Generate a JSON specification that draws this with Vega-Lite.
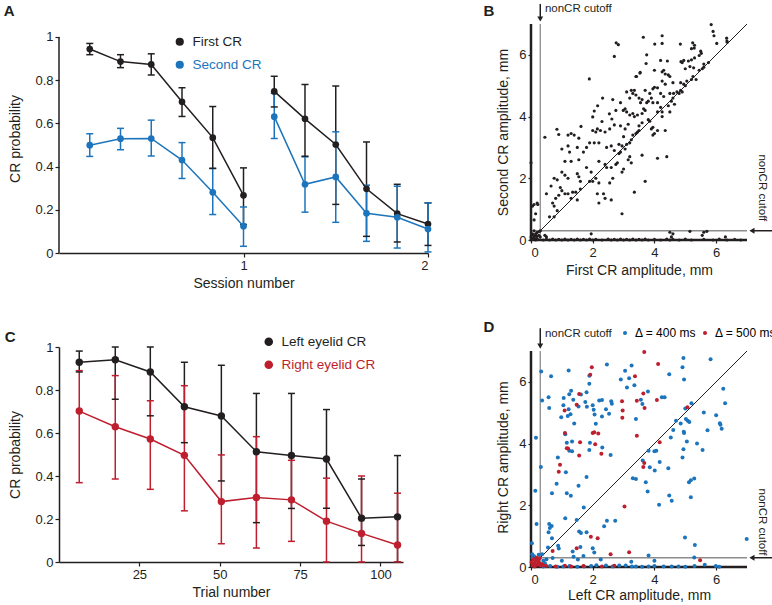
{
"$schema":"https://vega.github.io/schema/vega-lite/v6.json",
"padding":{"left":3,"top":2,"right":0,"bottom":0},
"config":{
 "font":"Liberation Sans",
 "view":{"stroke":null},
 "axis":{"grid":false,"labelFontSize":13,"titleFontSize":14,"titleFontWeight":"normal","labelColor":"#231f20","titleColor":"#231f20","tickColor":"#231f20","domainColor":"#231f20","domainWidth":1.5,"tickWidth":1.2,"tickSize":4},
 "legend":{"labelFontSize":13}
},
"resolve":{"scale":{"color":"independent"},"legend":{"color":"independent"}},
"datasets":{
 "a":[
  {"x":0.1667,"p":0.944,"lo":0.918,"hi":0.970,"series":"First CR","seg":1},
  {"x":0.3333,"p":0.886,"lo":0.858,"hi":0.918,"series":"First CR","seg":1},
  {"x":0.5,"p":0.873,"lo":0.824,"hi":0.922,"series":"First CR","seg":1},
  {"x":0.6667,"p":0.700,"lo":0.632,"hi":0.765,"series":"First CR","seg":1},
  {"x":0.8333,"p":0.534,"lo":0.392,"hi":0.678,"series":"First CR","seg":1},
  {"x":1.0,"p":0.267,"lo":0.132,"hi":0.394,"series":"First CR","seg":1},
  {"x":1.1667,"p":0.748,"lo":0.676,"hi":0.818,"series":"First CR","seg":2},
  {"x":1.3333,"p":0.621,"lo":0.448,"hi":0.780,"series":"First CR","seg":2},
  {"x":1.5,"p":0.502,"lo":0.225,"hi":0.773,"series":"First CR","seg":2},
  {"x":1.6667,"p":0.297,"lo":0.077,"hi":0.514,"series":"First CR","seg":2},
  {"x":1.8333,"p":0.182,"lo":0.051,"hi":0.318,"series":"First CR","seg":2},
  {"x":2.0,"p":0.134,"lo":0.035,"hi":0.232,"series":"First CR","seg":2},
  {"x":0.1667,"p":0.499,"lo":0.447,"hi":0.552,"series":"Second CR","seg":1},
  {"x":0.3333,"p":0.529,"lo":0.478,"hi":0.577,"series":"Second CR","seg":1},
  {"x":0.5,"p":0.530,"lo":0.449,"hi":0.615,"series":"Second CR","seg":1},
  {"x":0.6667,"p":0.430,"lo":0.345,"hi":0.511,"series":"Second CR","seg":1},
  {"x":0.8333,"p":0.281,"lo":0.178,"hi":0.391,"series":"Second CR","seg":1},
  {"x":1.0,"p":0.124,"lo":0.031,"hi":0.213,"series":"Second CR","seg":1},
  {"x":1.1667,"p":0.631,"lo":0.530,"hi":0.739,"series":"Second CR","seg":2},
  {"x":1.3333,"p":0.318,"lo":0.189,"hi":0.445,"series":"Second CR","seg":2},
  {"x":1.5,"p":0.352,"lo":0.142,"hi":0.561,"series":"Second CR","seg":2},
  {"x":1.6667,"p":0.184,"lo":0.054,"hi":0.314,"series":"Second CR","seg":2},
  {"x":1.8333,"p":0.165,"lo":0.023,"hi":0.309,"series":"Second CR","seg":2},
  {"x":2.0,"p":0.111,"lo":0.005,"hi":0.232,"series":"Second CR","seg":2}
 ],
 "c":[
  {"t":6.3,"p":0.929,"lo":0.884,"hi":0.981,"series":"Left eyelid CR"},
  {"t":17.5,"p":0.941,"lo":0.757,"hi":1.0,"series":"Left eyelid CR"},
  {"t":28.4,"p":0.884,"lo":0.68,"hi":1.0,"series":"Left eyelid CR"},
  {"t":39,"p":0.722,"lo":0.555,"hi":0.929,"series":"Left eyelid CR"},
  {"t":50.5,"p":0.679,"lo":0.377,"hi":0.915,"series":"Left eyelid CR"},
  {"t":61.4,"p":0.513,"lo":0.183,"hi":0.784,"series":"Left eyelid CR"},
  {"t":72.3,"p":0.495,"lo":0.249,"hi":0.784,"series":"Left eyelid CR"},
  {"t":83.2,"p":0.479,"lo":0.25,"hi":0.709,"series":"Left eyelid CR"},
  {"t":94.1,"p":0.204,"lo":0.077,"hi":0.386,"series":"Left eyelid CR"},
  {"t":105.3,"p":0.210,"lo":0.0,"hi":0.495,"series":"Left eyelid CR"},
  {"t":6.3,"p":0.702,"lo":0.369,"hi":0.89,"series":"Right eyelid CR"},
  {"t":17.5,"p":0.629,"lo":0.386,"hi":0.867,"series":"Right eyelid CR"},
  {"t":28.4,"p":0.572,"lo":0.338,"hi":0.75,"series":"Right eyelid CR"},
  {"t":39,"p":0.496,"lo":0.238,"hi":0.82,"series":"Right eyelid CR"},
  {"t":50.5,"p":0.281,"lo":0.085,"hi":0.498,"series":"Right eyelid CR"},
  {"t":61.4,"p":0.30,"lo":0.065,"hi":0.583,"series":"Right eyelid CR"},
  {"t":72.3,"p":0.289,"lo":0.096,"hi":0.473,"series":"Right eyelid CR"},
  {"t":83.2,"p":0.19,"lo":0.0,"hi":0.39,"series":"Right eyelid CR"},
  {"t":94.1,"p":0.133,"lo":0.0,"hi":0.40,"series":"Right eyelid CR"},
  {"t":105.3,"p":0.079,"lo":0.0,"hi":0.32,"series":"Right eyelid CR"}
 ],
 "gl":[{"x":0.3,"y":0,"x2":0.3,"y2":7},{"x":0,"y":0.3,"x2":7,"y2":0.3}],
 "bl":[{"x":0,"y":0,"x2":0,"y2":7},{"x":0,"y":0,"x2":7,"y2":0}],
 "dg":[{"x":0,"y":0,"x2":7,"y2":7}],
 "b":[
  {"x":5.84,"y":6.98},{"x":5.9,"y":6.76},{"x":5.93,"y":6.62},{"x":6.34,"y":6.54},{"x":6.36,"y":6.41},{"x":6.02,"y":6.37},{"x":3.64,"y":6.57},{"x":4.25,"y":6.62},{"x":4.25,"y":6.37},{"x":4.01,"y":6.35},{"x":2.76,"y":6.39},{"x":2.83,"y":6.33},{"x":4.84,"y":6.35},{"x":5.24,"y":6.39},{"x":5.3,"y":6.31},{"x":5.29,"y":6.22},{"x":5.2,"y":6.2},{"x":5.5,"y":6.12},{"x":5.52,"y":6.05},{"x":2.7,"y":5.95},{"x":3.75,"y":6.0},{"x":3.73,"y":5.72},{"x":3.54,"y":5.43},{"x":3.4,"y":5.3},{"x":4.2,"y":5.82},{"x":4.42,"y":5.8},{"x":4.86,"y":5.78},{"x":4.95,"y":5.82},{"x":4.9,"y":5.75},{"x":5.1,"y":5.8},{"x":5.2,"y":5.84},{"x":5.3,"y":5.9},{"x":5.45,"y":5.98},{"x":5.0,"y":5.55},{"x":5.15,"y":5.62},{"x":5.27,"y":5.58},{"x":5.25,"y":5.3},{"x":5.35,"y":5.2},{"x":5.45,"y":5.5},{"x":5.55,"y":5.55},{"x":5.6,"y":5.7},{"x":4.0,"y":5.5},{"x":4.25,"y":5.45},{"x":4.35,"y":5.38},{"x":4.45,"y":5.35},{"x":4.3,"y":5.5},{"x":4.5,"y":5.3},{"x":4.6,"y":5.1},{"x":4.85,"y":5.1},{"x":4.95,"y":5.05},{"x":5.05,"y":5.15},{"x":4.25,"y":5.15},{"x":4.35,"y":5.05},{"x":1.89,"y":5.22},{"x":3.42,"y":5.3},{"x":3.53,"y":5.41},
  {"x":4.0,"y":4.95},{"x":3.95,"y":4.9},{"x":4.1,"y":4.93},{"x":3.7,"y":4.85},{"x":3.85,"y":4.75},{"x":4.2,"y":4.75},{"x":4.3,"y":4.65},{"x":4.5,"y":4.75},{"x":4.62,"y":4.75},{"x":4.73,"y":4.8},{"x":4.85,"y":4.85},{"x":3.4,"y":4.7},{"x":3.3,"y":4.75},{"x":3.1,"y":4.8},{"x":3.25,"y":4.85},{"x":3.35,"y":4.85},{"x":3.2,"y":4.6},{"x":3.5,"y":4.6},{"x":3.6,"y":4.55},{"x":3.55,"y":4.45},{"x":3.75,"y":4.45},{"x":3.8,"y":4.5},{"x":3.95,"y":4.45},{"x":4.1,"y":4.45},{"x":3.9,"y":4.6},{"x":2.32,"y":4.6},{"x":2.65,"y":4.55},{"x":2.9,"y":4.45},
  {"x":2.16,"y":4.35},{"x":2.05,"y":4.18},{"x":2.0,"y":3.99},{"x":2.54,"y":4.09},{"x":2.62,"y":3.92},{"x":2.99,"y":4.2},{"x":3.05,"y":4.25},{"x":3.1,"y":4.15},{"x":3.2,"y":4.05},{"x":3.3,"y":4.1},{"x":3.35,"y":4.0},{"x":3.45,"y":4.05},{"x":3.6,"y":4.1},{"x":3.65,"y":4.25},{"x":3.7,"y":4.2},{"x":4.1,"y":4.15},{"x":4.2,"y":4.3},{"x":4.25,"y":4.0},{"x":4.5,"y":4.15},{"x":4.65,"y":4.4},{"x":4.55,"y":4.5},{"x":2.75,"y":4.2},{"x":2.55,"y":3.6},{"x":1.62,"y":3.68},{"x":0.84,"y":3.59},{"x":0.9,"y":3.42},{"x":0.45,"y":3.33},{"x":1.2,"y":3.4},{"x":1.3,"y":3.45},{"x":1.4,"y":3.4},{"x":1.55,"y":3.3},
  {"x":2.3,"y":3.84},{"x":2.7,"y":3.73},{"x":2.9,"y":3.7},{"x":3.05,"y":3.6},{"x":3.15,"y":3.75},{"x":3.0,"y":3.35},{"x":3.1,"y":3.1},{"x":3.2,"y":3.15},{"x":3.3,"y":3.4},{"x":3.4,"y":3.45},{"x":3.45,"y":3.5},{"x":3.25,"y":3.25},{"x":3.5,"y":3.7},{"x":3.6,"y":3.8},{"x":3.8,"y":3.9},{"x":3.9,"y":3.6},{"x":3.95,"y":3.65},{"x":4.0,"y":3.45},{"x":3.95,"y":3.4},{"x":4.1,"y":3.55},{"x":4.35,"y":3.55},{"x":2.0,"y":3.55},{"x":2.15,"y":3.6},{"x":2.25,"y":3.55},{"x":2.4,"y":3.5},{"x":2.1,"y":3.5},{"x":2.2,"y":3.15},{"x":2.05,"y":3.15},{"x":1.9,"y":3.15},{"x":1.8,"y":3.0},{"x":1.7,"y":2.85},{"x":1.5,"y":3.0},{"x":2.45,"y":3.0},{"x":2.6,"y":3.05},{"x":2.7,"y":2.9},{"x":2.85,"y":3.1},{"x":2.95,"y":3.05},{"x":3.05,"y":2.95},{"x":2.9,"y":2.85},{"x":3.6,"y":2.75},{"x":4.1,"y":2.65},{"x":4.4,"y":2.7},{"x":3.2,"y":2.7},
  {"x":1.0,"y":2.95},{"x":1.2,"y":3.05},{"x":1.25,"y":2.85},{"x":1.3,"y":2.55},{"x":1.55,"y":2.6},{"x":1.1,"y":2.55},{"x":1.0,"y":2.2},{"x":1.1,"y":2.1},{"x":1.2,"y":2.0},{"x":1.5,"y":2.15},{"x":1.55,"y":2.05},{"x":1.6,"y":1.9},{"x":1.8,"y":2.35},{"x":1.95,"y":2.2},{"x":2.1,"y":2.0},{"x":2.2,"y":1.85},{"x":2.45,"y":2.35},{"x":2.6,"y":2.35},{"x":2.2,"y":2.55},{"x":2.65,"y":2.0},{"x":2.55,"y":1.85},{"x":2.8,"y":2.5},{"x":2.75,"y":2.45},{"x":2.95,"y":2.2},{"x":3.0,"y":2.3},{"x":3.15,"y":2.6},{"x":3.25,"y":2.5},{"x":0.65,"y":1.75},{"x":0.75,"y":2.0},{"x":0.85,"y":1.95},{"x":0.95,"y":1.7},{"x":1.0,"y":1.6},{"x":1.1,"y":1.5},{"x":0.8,"y":1.35},{"x":0.9,"y":1.45},{"x":1.2,"y":1.5},{"x":1.35,"y":1.55},{"x":1.45,"y":1.55},{"x":1.5,"y":1.3},{"x":1.9,"y":1.9},{"x":2.0,"y":1.9},{"x":2.15,"y":1.5},{"x":2.2,"y":1.2},{"x":2.35,"y":1.5},{"x":2.4,"y":1.35},{"x":2.6,"y":1.3},{"x":0.7,"y":1.2},{"x":0.75,"y":1.1},{"x":0.5,"y":1.5},{"x":0.6,"y":0.75},{"x":0.85,"y":0.95},{"x":3.7,"y":1.9},{"x":3.35,"y":1.55},{"x":2.95,"y":0.85},
  {"x":0.0,"y":2.5},{"x":0.05,"y":1.1},{"x":0.1,"y":1.15},{"x":0.2,"y":1.2},{"x":0.22,"y":1.15},{"x":0.15,"y":0.85},{"x":0.1,"y":0.65},{"x":0.3,"y":0.3},
  {"x":4.6,"y":4.6},{"x":4.8,"y":4.75},{"x":5.0,"y":5.0},{"x":5.2,"y":5.2},{"x":5.6,"y":5.6},{"x":5.75,"y":5.75},{"x":6.35,"y":6.45},{"x":4.45,"y":4.35},{"x":3.85,"y":3.85},{"x":3.5,"y":3.55},{"x":2.85,"y":2.8},{"x":2.4,"y":2.45},{"x":1.6,"y":1.65},{"x":1.3,"y":1.35},{"x":0.75,"y":0.75},{"x":4.25,"y":4.15},{"x":4.9,"y":4.8},
  {"x":0.4,"y":0.0},{"x":0.5,"y":0.02},{"x":0.6,"y":0.0},{"x":0.7,"y":0.03},{"x":0.8,"y":0.0},{"x":0.9,"y":0.02},{"x":1.0,"y":0.0},{"x":1.1,"y":0.03},{"x":1.2,"y":0.0},{"x":1.3,"y":0.02},{"x":1.4,"y":0.0},{"x":1.5,"y":0.03},{"x":1.6,"y":0.0},{"x":1.7,"y":0.02},{"x":1.8,"y":0.0},{"x":1.9,"y":0.03},{"x":2.0,"y":0.0},{"x":2.1,"y":0.02},{"x":2.3,"y":0.0},{"x":2.5,"y":0.03},{"x":2.6,"y":0.0},{"x":2.7,"y":0.02},{"x":2.8,"y":0.0},{"x":2.9,"y":0.03},{"x":3.0,"y":0.0},{"x":3.1,"y":0.02},{"x":3.2,"y":0.0},{"x":3.3,"y":0.03},{"x":3.4,"y":0.0},{"x":3.5,"y":0.02},{"x":3.6,"y":0.0},{"x":3.7,"y":0.03},{"x":3.8,"y":0.0},{"x":4.0,"y":0.02},{"x":4.2,"y":0.0},{"x":4.4,"y":0.03},{"x":4.5,"y":0.0},{"x":4.6,"y":0.02},{"x":4.8,"y":0.0},{"x":5.0,"y":0.03},{"x":5.2,"y":0.0},{"x":5.6,"y":0.02},{"x":5.9,"y":0.0},{"x":6.1,"y":0.03},{"x":6.35,"y":0.0},{"x":6.6,"y":0.02},{"x":6.8,"y":0.0},
  {"x":1.95,"y":0.2},{"x":4.5,"y":0.25},{"x":4.6,"y":0.2},{"x":4.55,"y":0.1},{"x":5.15,"y":0.28},{"x":5.6,"y":0.25},{"x":5.7,"y":0.28},{"x":5.55,"y":0.15},{"x":6.3,"y":0.1},{"x":0.45,"y":0.15},{"x":0.5,"y":0.1},
  {"x":0.05,"y":0.05},{"x":0.1,"y":0.1},{"x":0.15,"y":0.2},{"x":0.2,"y":0.05},{"x":0.05,"y":0.2},{"x":0.1,"y":0.3},{"x":0.25,"y":0.15},{"x":0.0,"y":0.0},{"x":0.15,"y":0.0},{"x":0.3,"y":0.1},{"x":0.2,"y":0.25},{"x":0.08,"y":0.15},{"x":0.12,"y":0.05},{"x":0.28,"y":0.28},{"x":0.0,"y":0.1},{"x":0.18,"y":0.12}
 ],
 "d":[
  {"x":0.33,"y":6.34,"g":"400"},{"x":1.22,"y":6.37,"g":"400"},{"x":0.65,"y":6.18,"g":"400"},{"x":2.46,"y":6.56,"g":"400"},{"x":1.89,"y":6.2,"g":"400"},{"x":3.05,"y":6.36,"g":"400"},{"x":3.26,"y":6.53,"g":"400"},{"x":2.91,"y":6.08,"g":"400"},{"x":3.18,"y":6.12,"g":"400"},{"x":3.11,"y":5.82,"g":"400"},{"x":3.35,"y":5.89,"g":"400"},{"x":1.89,"y":5.94,"g":"400"},{"x":1.3,"y":5.71,"g":"400"},{"x":1.24,"y":5.6,"g":"400"},{"x":1.62,"y":5.59,"g":"400"},{"x":1.8,"y":5.66,"g":"400"},{"x":0.36,"y":5.4,"g":"400"},{"x":0.57,"y":5.5,"g":"400"},{"x":0.59,"y":5.15,"g":"400"},{"x":1.06,"y":5.48,"g":"400"},{"x":1.05,"y":5.24,"g":"400"},{"x":1.22,"y":5.11,"g":"400"},{"x":1.19,"y":4.89,"g":"400"},{"x":1.28,"y":4.95,"g":"400"},{"x":1.54,"y":5.2,"g":"400"},{"x":1.37,"y":5.42,"g":"400"},{"x":0.98,"y":4.85,"g":"400"},{"x":1.4,"y":4.65,"g":"400"},{"x":1.76,"y":5.35,"g":"400"},{"x":1.81,"y":5.19,"g":"400"},{"x":2.0,"y":5.24,"g":"400"},{"x":2.03,"y":5.1,"g":"400"},{"x":2.06,"y":4.94,"g":"400"},{"x":2.1,"y":4.64,"g":"400"},{"x":2.21,"y":5.4,"g":"400"},{"x":2.3,"y":5.41,"g":"400"},{"x":2.43,"y":5.11,"g":"400"},{"x":2.6,"y":5.37,"g":"400"},{"x":2.62,"y":5.29,"g":"400"},{"x":2.53,"y":4.97,"g":"400"},{"x":2.3,"y":4.88,"g":"400"},{"x":3.4,"y":4.8,"g":"400"},{"x":3.56,"y":5.42,"g":"400"},{"x":1.11,"y":4.3,"g":"400"},{"x":0.16,"y":4.19,"g":"400"},{"x":1.16,"y":4.03,"g":"400"},{"x":1.33,"y":4.07,"g":"400"},{"x":1.91,"y":4.03,"g":"400"},{"x":2.31,"y":3.87,"g":"400"},{"x":1.89,"y":3.79,"g":"400"},{"x":2.58,"y":3.63,"g":"400"},{"x":0.87,"y":3.55,"g":"400"},{"x":1.24,"y":3.77,"g":"400"},{"x":1.33,"y":3.75,"g":"400"},
  {"x":4.94,"y":6.77,"g":"400"},{"x":5.82,"y":6.73,"g":"400"},{"x":4.91,"y":6.47,"g":"400"},{"x":4.96,"y":6.08,"g":"400"},{"x":4.48,"y":6.25,"g":"400"},{"x":3.79,"y":5.69,"g":"400"},{"x":3.61,"y":5.28,"g":"400"},{"x":4.24,"y":5.5,"g":"400"},{"x":4.33,"y":5.5,"g":"400"},{"x":5.0,"y":5.14,"g":"400"},{"x":5.2,"y":5.31,"g":"400"},{"x":6.23,"y":5.78,"g":"400"},{"x":6.29,"y":5.31,"g":"400"},{"x":5.6,"y":5.01,"g":"400"},{"x":6.0,"y":4.92,"g":"400"},{"x":6.12,"y":4.66,"g":"400"},{"x":6.14,"y":4.61,"g":"400"},{"x":6.18,"y":4.48,"g":"400"},{"x":5.72,"y":4.43,"g":"400"},{"x":5.38,"y":4.0,"g":"400"},{"x":5.56,"y":3.79,"g":"400"},{"x":4.95,"y":4.38,"g":"400"},{"x":4.96,"y":4.34,"g":"400"},{"x":5.05,"y":4.07,"g":"400"},{"x":4.94,"y":3.82,"g":"400"},{"x":4.53,"y":4.2,"g":"400"},{"x":4.61,"y":4.44,"g":"400"},{"x":4.7,"y":4.74,"g":"400"},{"x":4.85,"y":4.65,"g":"400"},{"x":5.02,"y":4.8,"g":"400"},{"x":5.08,"y":4.74,"g":"400"},{"x":5.13,"y":4.7,"g":"400"},{"x":3.81,"y":3.77,"g":"400"},{"x":4.06,"y":3.77,"g":"400"},{"x":4.91,"y":3.55,"g":"400"},{"x":3.62,"y":3.45,"g":"400"},{"x":4.0,"y":3.75,"g":"400"},
  {"x":0.32,"y":3.24,"g":"400"},{"x":1.13,"y":3.07,"g":"400"},{"x":0.14,"y":2.47,"g":"400"},{"x":0.83,"y":2.7,"g":"400"},{"x":0.68,"y":2.39,"g":"400"},{"x":1.16,"y":2.39,"g":"400"},{"x":1.29,"y":2.31,"g":"400"},{"x":1.54,"y":2.63,"g":"400"},{"x":1.8,"y":2.92,"g":"400"},{"x":1.71,"y":1.93,"g":"400"},{"x":4.17,"y":3.4,"g":"400"},{"x":3.85,"y":3.23,"g":"400"},{"x":4.01,"y":3.13,"g":"400"},{"x":4.45,"y":3.2,"g":"400"},{"x":3.4,"y":2.85,"g":"400"},{"x":3.72,"y":2.75,"g":"400"},{"x":3.78,"y":2.45,"g":"400"},{"x":4.48,"y":2.32,"g":"400"},{"x":4.56,"y":2.15,"g":"400"},{"x":4.15,"y":2.02,"g":"400"},{"x":5.12,"y":2.75,"g":"400"},{"x":5.18,"y":2.81,"g":"400"},{"x":5.29,"y":2.87,"g":"400"},{"x":5.18,"y":2.26,"g":"400"},{"x":3.3,"y":2.88,"g":"400"},
  {"x":0.18,"y":1.39,"g":"400"},{"x":0.59,"y":1.39,"g":"400"},{"x":0.67,"y":1.33,"g":"400"},{"x":0.61,"y":1.26,"g":"400"},{"x":0.57,"y":1.13,"g":"400"},{"x":1.48,"y":1.52,"g":"400"},{"x":1.11,"y":1.58,"g":"400"},{"x":1.56,"y":1.15,"g":"400"},{"x":1.62,"y":1.1,"g":"400"},{"x":1.8,"y":1.13,"g":"400"},{"x":2.37,"y":1.32,"g":"400"},{"x":2.46,"y":1.5,"g":"400"},{"x":2.73,"y":1.5,"g":"400"},{"x":0.68,"y":0.93,"g":"400"},{"x":0.88,"y":0.69,"g":"400"},{"x":0.9,"y":0.6,"g":"400"},{"x":0.55,"y":0.63,"g":"400"},{"x":0.03,"y":0.77,"g":"400"},{"x":0.04,"y":0.41,"g":"400"},{"x":0.36,"y":0.41,"g":"400"},{"x":1.35,"y":0.5,"g":"400"},{"x":1.38,"y":0.33,"g":"400"},{"x":1.6,"y":0.65,"g":"400"},{"x":2.0,"y":0.61,"g":"400"},{"x":2.05,"y":0.47,"g":"400"},{"x":1.7,"y":0.36,"g":"400"},{"x":1.52,"y":0.24,"g":"400"},{"x":0.7,"y":0.29,"g":"400"},{"x":4.99,"y":0.96,"g":"400"},{"x":5.31,"y":0.71,"g":"400"},{"x":6.99,"y":0.91,"g":"400"},{"x":3.81,"y":0.37,"g":"400"},{"x":4.0,"y":0.2,"g":"400"},{"x":5.29,"y":0.31,"g":"400"},{"x":5.63,"y":0.07,"g":"400"},{"x":3.25,"y":0.17,"g":"400"},{"x":2.26,"y":0.24,"g":"400"},{"x":1.0,"y":0.2,"g":"400"},{"x":0.5,"y":0.25,"g":"400"},
  {"x":0.4,"y":0.02,"g":"400"},{"x":0.62,"y":0.03,"g":"400"},{"x":0.85,"y":0.01,"g":"400"},{"x":1.05,"y":0.02,"g":"400"},{"x":1.25,"y":0.03,"g":"400"},{"x":1.5,"y":0.01,"g":"400"},{"x":1.72,"y":0.02,"g":"400"},{"x":1.95,"y":0.03,"g":"400"},{"x":2.12,"y":0.06,"g":"400"},{"x":2.43,"y":0.05,"g":"400"},{"x":2.65,"y":0.02,"g":"400"},{"x":2.86,"y":0.05,"g":"400"},{"x":3.07,"y":0.05,"g":"400"},{"x":3.27,"y":0.02,"g":"400"},{"x":3.4,"y":0.02,"g":"400"},{"x":3.6,"y":0.01,"g":"400"},{"x":3.81,"y":0.02,"g":"400"},{"x":4.0,"y":0.03,"g":"400"},{"x":4.3,"y":0.02,"g":"400"},{"x":4.56,"y":0.02,"g":"400"},{"x":4.78,"y":0.02,"g":"400"},{"x":5.0,"y":0.01,"g":"400"},{"x":5.3,"y":0.03,"g":"400"},{"x":5.99,"y":0.03,"g":"400"},{"x":6.1,"y":0.01,"g":"400"},
  {"x":0.1,"y":0.35,"g":"400"},{"x":0.25,"y":0.4,"g":"400"},{"x":0.05,"y":0.3,"g":"400"},{"x":0.4,"y":0.2,"g":"400"},{"x":0.45,"y":0.12,"g":"400"},
  {"x":1.97,"y":6.47,"g":"500"},{"x":1.92,"y":6.23,"g":"500"},{"x":3.37,"y":6.18,"g":"500"},{"x":1.56,"y":5.61,"g":"500"},{"x":1.09,"y":5.07,"g":"500"},{"x":1.48,"y":5.26,"g":"500"},{"x":2.95,"y":5.37,"g":"500"},{"x":2.97,"y":5.07,"g":"500"},{"x":2.96,"y":4.84,"g":"500"},{"x":3.43,"y":5.39,"g":"500"},{"x":1.1,"y":4.34,"g":"500"},{"x":2.0,"y":4.34,"g":"500"},{"x":2.05,"y":4.37,"g":"500"},{"x":2.18,"y":4.33,"g":"500"},{"x":1.16,"y":3.85,"g":"500"},{"x":1.2,"y":3.84,"g":"500"},{"x":1.59,"y":4.04,"g":"500"},{"x":2.08,"y":3.98,"g":"500"},{"x":2.28,"y":3.67,"g":"500"},{"x":1.56,"y":3.61,"g":"500"},
  {"x":3.67,"y":6.97,"g":"500"},{"x":4.12,"y":6.58,"g":"500"},{"x":3.64,"y":5.62,"g":"500"},{"x":3.68,"y":5.15,"g":"500"},{"x":4.08,"y":5.41,"g":"500"},{"x":5.07,"y":5.18,"g":"500"},{"x":4.17,"y":4.04,"g":"500"},{"x":3.43,"y":4.25,"g":"500"},
  {"x":0.94,"y":3.31,"g":"500"},{"x":0.9,"y":3.09,"g":"500"},{"x":3.67,"y":3.37,"g":"500"},{"x":3.64,"y":3.24,"g":"500"},
  {"x":3.03,"y":1.96,"g":"500"},{"x":1.94,"y":0.98,"g":"500"},{"x":2.16,"y":0.93,"g":"500"},{"x":0.7,"y":0.52,"g":"500"},{"x":1.48,"y":0.61,"g":"500"},{"x":2.58,"y":0.41,"g":"500"},{"x":3.18,"y":0.48,"g":"500"},{"x":5.48,"y":0.22,"g":"500"},
  {"x":0.5,"y":0.03,"g":"500"},{"x":0.8,"y":0.02,"g":"500"},{"x":1.1,"y":0.04,"g":"500"},{"x":1.3,"y":0.02,"g":"500"},{"x":1.7,"y":0.03,"g":"500"},{"x":2.3,"y":0.02,"g":"500"},{"x":2.7,"y":0.04,"g":"500"},
  {"x":0.05,"y":0.05,"g":"500"},{"x":0.1,"y":0.12,"g":"500"},{"x":0.15,"y":0.2,"g":"500"},{"x":0.2,"y":0.08,"g":"500"},{"x":0.08,"y":0.25,"g":"500"},{"x":0.25,"y":0.15,"g":"500"},{"x":0.12,"y":0.02,"g":"500"},{"x":0.3,"y":0.05,"g":"500"},{"x":0.18,"y":0.3,"g":"500"},{"x":0.22,"y":0.22,"g":"500"},{"x":0.35,"y":0.1,"g":"500"},{"x":0.02,"y":0.15,"g":"500"},{"x":0.4,"y":0.05,"g":"500"},{"x":0.28,"y":0.28,"g":"500"},{"x":0.14,"y":0.1,"g":"500"}
 ]
},
"columns":2,
"spacing":{"row":29,"column":51},
"concat":[
 {
  "width":369,"height":229,
  "data":{"name":"a"},
  "encoding":{
   "x":{"field":"x","type":"quantitative","scale":{"domain":[0,2],"nice":false},"axis":{"values":[1,2],"title":"Session number"}},
   "color":{"field":"series","type":"nominal","scale":{"domain":["First CR","Second CR"],"range":["#231f20","#1c75bc"]},
     "legend":{"title":null,"orient":"none","legendX":114,"legendY":11,"symbolType":"circle","symbolSize":45,"rowPadding":8,"labelOffset":6,"labelFontSize":13.5,
       "encode":{"labels":{"update":{"fill":{"signal":"datum.value === 'Second CR' ? '#1c75bc' : '#231f20'"}}},
                 "symbols":{"update":{"fill":{"signal":"datum.value === 'Second CR' ? '#1c75bc' : '#231f20'"},"stroke":{"value":"transparent"},"opacity":{"value":1}}}}}}
  },
  "layer":[
   {"data":{"values":[{"x":0,"lo":0,"hi":1}]},"mark":{"type":"rule","strokeWidth":1.5},
    "encoding":{"y":{"field":"lo","type":"quantitative","title":"CR probability","scale":{"domain":[0,1.06],"nice":false},"axis":{"values":[0,0.2,0.4,0.6,0.8,1],"format":"~g","domain":false,"titlePadding":12}},"y2":{"field":"hi"},"color":{"value":"#231f20"}}},
   {"mark":{"type":"rule","strokeWidth":1.5},"encoding":{"y":{"field":"lo","type":"quantitative","title":"CR probability"},"y2":{"field":"hi"}}},
   {"mark":{"type":"tick","orient":"horizontal","size":7,"thickness":1.5,"opacity":1},"encoding":{"y":{"field":"hi","type":"quantitative","title":"CR probability"}}},
   {"mark":{"type":"tick","orient":"horizontal","size":7,"thickness":1.5,"opacity":1},"encoding":{"y":{"field":"lo","type":"quantitative","title":"CR probability"}}},
   {"mark":{"type":"line","strokeWidth":1.5},"encoding":{"y":{"field":"p","type":"quantitative","title":"CR probability"},"detail":{"field":"seg"}}},
   {"mark":{"type":"point","filled":true,"size":45,"opacity":1},"encoding":{"y":{"field":"p","type":"quantitative","title":"CR probability"}}},
   {"data":{"values":[{"x":-0.27,"p":1.12,"lab":"A"}]},"mark":{"type":"text","fontSize":15,"fontWeight":"bold","align":"center","baseline":"middle"},"encoding":{"y":{"field":"p","type":"quantitative","title":"CR probability"},"text":{"field":"lab"},"color":{"value":"#231f20"}}}
  ]
 },
 {
  "width":216,"height":216,
  "encoding":{
   "x":{"field":"x","type":"quantitative","scale":{"domain":[0,7],"nice":false},"axis":{"values":[0,2,4,6],"domain":false,"title":"First CR amplitude, mm","tickSize":3,"labelPadding":3}},
   "y":{"field":"y","type":"quantitative","scale":{"domain":[0,7],"nice":false},"axis":{"values":[0,2,4,6],"domain":false,"title":"Second CR amplitude, mm","tickSize":3,"titlePadding":8}}
  },
  "layer":[
   {"data":{"name":"gl"},"mark":{"type":"rule","color":"#8c8c8c","strokeWidth":1.3},"encoding":{"x2":{"field":"x2"},"y2":{"field":"y2"}}},
   {"data":{"name":"bl"},"mark":{"type":"rule","color":"#231f20","strokeWidth":2.5},"encoding":{"x2":{"field":"x2"},"y2":{"field":"y2"}}},
   {"data":{"name":"dg"},"mark":{"type":"rule","color":"#231f20","strokeWidth":1},"encoding":{"x2":{"field":"x2"},"y2":{"field":"y2"}}},
   {"data":{"name":"b"},"mark":{"type":"circle","color":"#231f20","size":10,"opacity":1}},
   {"data":{"values":[{"x":0.3,"y":7.65,"x2":0.3,"y2":7.2},{"x":7.2,"y":0.3,"x2":7.9,"y2":0.3}]},"mark":{"type":"rule","color":"#231f20","strokeWidth":1.5},"encoding":{"x2":{"field":"x2"},"y2":{"field":"y2"}}},
   {"data":{"values":[{"x":0.3,"y":7.16,"s":"triangle-down"},{"x":7.16,"y":0.3,"s":"triangle-left"}]},"mark":{"type":"point","filled":true,"color":"#231f20","opacity":1,"size":35},"encoding":{"shape":{"field":"s","type":"nominal","scale":null}}},
   {"data":{"values":[{"x":0.45,"y":7.49}]},"mark":{"type":"text","text":"nonCR cutoff","align":"left","baseline":"middle","fontSize":11.5,"color":"#231f20"}},
   {"data":{"values":[{"x":7.5,"y":1.69}]},"mark":{"type":"text","text":"nonCR cutoff","angle":90,"align":"center","baseline":"middle","fontSize":11.5,"color":"#231f20"}},
   {"data":{"values":[{"x":-1.36,"y":7.42}]},"mark":{"type":"text","text":"B","fontSize":15,"fontWeight":"bold","align":"center","baseline":"middle","color":"#231f20"}}
  ]
 },
 {
  "width":344,"height":215,
  "data":{"name":"c"},
  "encoding":{
   "x":{"field":"t","type":"quantitative","scale":{"domain":[0,107],"nice":false},"axis":{"values":[25,50,75,100],"title":"Trial number"}},
   "color":{"field":"series","type":"nominal","scale":{"domain":["Left eyelid CR","Right eyelid CR"],"range":["#231f20","#be1e2d"]},
     "legend":{"title":null,"orient":"none","legendX":203,"legendY":-12,"symbolType":"circle","symbolSize":50,"rowPadding":8,"labelOffset":6,"labelFontSize":13.5,
       "encode":{"labels":{"update":{"fill":{"signal":"datum.value === 'Right eyelid CR' ? '#be1e2d' : '#231f20'"}}},
                 "symbols":{"update":{"fill":{"signal":"datum.value === 'Right eyelid CR' ? '#be1e2d' : '#231f20'"},"stroke":{"value":"transparent"},"opacity":{"value":1}}}}}}
  },
  "layer":[
   {"mark":{"type":"rule","strokeWidth":1.5},"encoding":{"y":{"field":"lo","type":"quantitative","title":"CR probability","scale":{"domain":[0,1],"nice":false},"axis":{"values":[0,0.2,0.4,0.6,0.8,1],"format":"~g","titlePadding":12}},"y2":{"field":"hi"}}},
   {"mark":{"type":"tick","orient":"horizontal","size":7,"thickness":1.5,"opacity":1},"encoding":{"y":{"field":"hi","type":"quantitative","title":"CR probability"}}},
   {"mark":{"type":"tick","orient":"horizontal","size":7,"thickness":1.5,"opacity":1},"encoding":{"y":{"field":"lo","type":"quantitative","title":"CR probability"}}},
   {"mark":{"type":"line","strokeWidth":1.5},"encoding":{"y":{"field":"p","type":"quantitative","title":"CR probability"}}},
   {"mark":{"type":"point","filled":true,"size":55,"opacity":1},"encoding":{"y":{"field":"p","type":"quantitative","title":"CR probability"}}},
   {"data":{"values":[{"t":-15.2,"p":1.047,"lab":"C"}]},"mark":{"type":"text","fontSize":15,"fontWeight":"bold","align":"center","baseline":"middle"},"encoding":{"y":{"field":"p","type":"quantitative","title":"CR probability"},"text":{"field":"lab"},"color":{"value":"#231f20"}}}
  ]
 },
 {
  "width":216,"height":220,
  "encoding":{
   "x":{"field":"x","type":"quantitative","scale":{"domain":[0,7],"nice":false},"axis":{"values":[0,2,4,6],"domain":false,"title":"Left CR amplitude, mm","tickSize":3,"labelPadding":3,"titlePadding":2}},
   "y":{"field":"y","type":"quantitative","scale":{"domain":[0,7.13],"nice":false},"axis":{"values":[0,2,4,6],"domain":false,"title":"Right CR amplitude, mm","tickSize":3,"titlePadding":8}}
  },
  "layer":[
   {"data":{"name":"gl"},"mark":{"type":"rule","color":"#8c8c8c","strokeWidth":1.3},"encoding":{"x2":{"field":"x2"},"y2":{"field":"y2"}}},
   {"data":{"name":"bl"},"mark":{"type":"rule","color":"#231f20","strokeWidth":2.5},"encoding":{"x2":{"field":"x2"},"y2":{"field":"y2"}}},
   {"data":{"name":"dg"},"mark":{"type":"rule","color":"#231f20","strokeWidth":1},"encoding":{"x2":{"field":"x2"},"y2":{"field":"y2"}}},
   {"data":{"name":"d"},"mark":{"type":"circle","size":16,"opacity":1},
    "encoding":{"color":{"field":"g","type":"nominal","scale":{"domain":["400","500"],"range":["#1c75bc","#be1e2d"]},
      "legend":{"title":null,"orient":"none","direction":"horizontal","legendX":88,"legendY":-20,"symbolType":"circle","symbolSize":16,"labelOffset":4,"columnPadding":2,"labelFontSize":12,
        "labelExpr":"'Δ = ' + datum.label + ' ms'",
        "encode":{"labels":{"update":{"fill":{"signal":"datum.value === '500' ? '#be1e2d' : '#1c75bc'"}}}}}}}},
   {"data":{"values":[{"x":0.3,"y":7.74,"x2":0.3,"y2":7.2},{"x":7.2,"y":0.3,"x2":7.9,"y2":0.3}]},"mark":{"type":"rule","color":"#231f20","strokeWidth":1.5},"encoding":{"x2":{"field":"x2"},"y2":{"field":"y2"}}},
   {"data":{"values":[{"x":0.3,"y":7.16,"s":"triangle-down"},{"x":7.16,"y":0.3,"s":"triangle-left"}]},"mark":{"type":"point","filled":true,"color":"#231f20","opacity":1,"size":35},"encoding":{"shape":{"field":"s","type":"nominal","scale":null}}},
   {"data":{"values":[{"x":0.45,"y":7.55}]},"mark":{"type":"text","text":"nonCR cutoff","align":"left","baseline":"middle","fontSize":11.5,"color":"#231f20"}},
   {"data":{"values":[{"x":7.5,"y":1.46}]},"mark":{"type":"text","text":"nonCR cutoff","angle":90,"align":"center","baseline":"middle","fontSize":11.5,"color":"#231f20"}},
   {"data":{"values":[{"x":-1.36,"y":7.78}]},"mark":{"type":"text","text":"D","fontSize":15,"fontWeight":"bold","align":"center","baseline":"middle","color":"#231f20"}}
  ]
 }
]
}
